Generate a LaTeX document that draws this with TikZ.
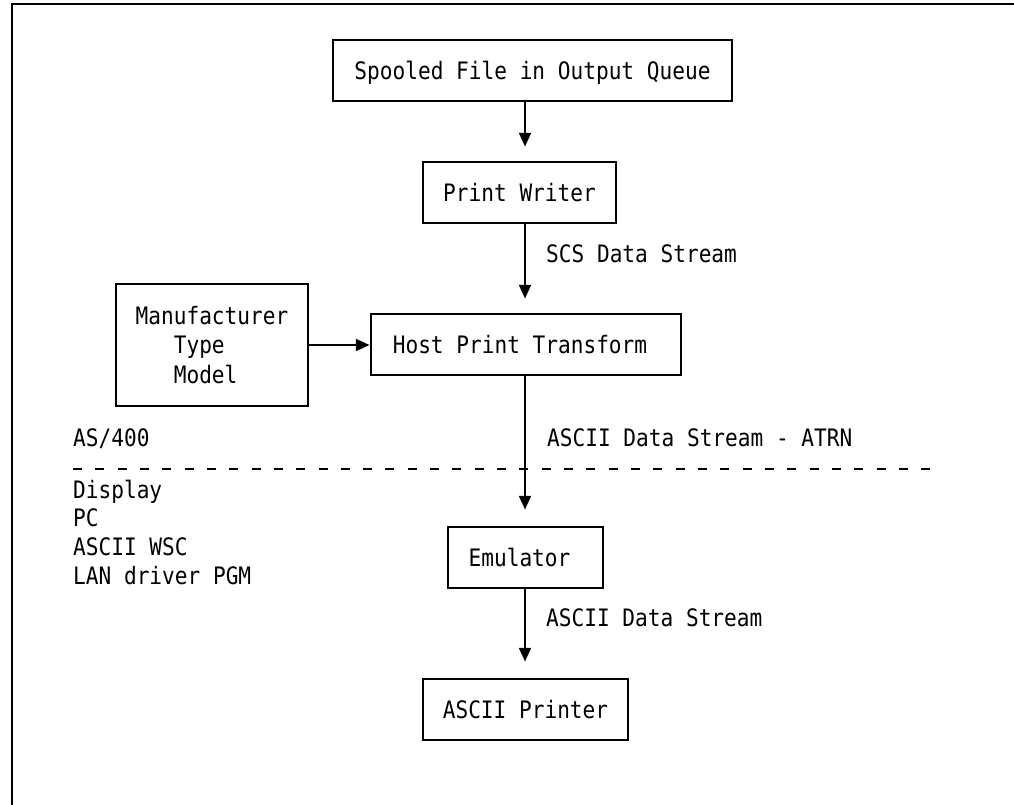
\documentclass[tikz,border=0pt]{standalone}
\usepackage{fontspec}
\newfontfamily\diagfont{DejaVu Sans Mono}[FakeStretch=0.88]
\usetikzlibrary{arrows.meta}

\tikzset{
  every node/.style={font=\diagfont\fontsize{24pt}{29.4pt}\selectfont, inner sep=0pt},
  box/.style={draw, line width=1.1pt, text height=17.5pt, text depth=0pt},
  flow/.style={line width=1.6pt, -{Triangle[width=12pt,length=13.5pt]}},
  lbl/.style={anchor=base west},
  nudge/.style={execute at end node={\hspace*{12pt}}}
}

\begin{document}
\begin{tikzpicture}[x=1pt,y=-1pt]
\useasboundingbox (0,0) rectangle (1014,805);

% page frame (top and left edges only)
\draw[line width=2pt] (12,805) -- (12,4) -- (1014,4);

% main flow column
\coordinate (spine) at (525,0);

\node[box, minimum width=399pt, minimum height=61pt] (spool) at (532.5,70.5) {Spooled File in Output Queue};
\node[box, minimum width=193pt, minimum height=61pt] (writer) at (519.5,192.5) {Print Writer};
\node[box, nudge, minimum width=310pt, minimum height=61pt] (hpt) at (526,344.5) {Host Print Transform};
\node[draw, line width=1.1pt, align=left, minimum width=192pt, minimum height=122pt] (mfr) at (212,345)
  {Manufacturer\\\phantom{Man}Type\\\phantom{Man}Model};
\node[box, nudge, minimum width=155pt, minimum height=61pt] (emu) at (525.5,557.5) {Emulator};
\node[box, minimum width=205pt, minimum height=61pt] (prn) at (525.5,709.5) {ASCII Printer};

% connectors
\draw[flow] (spool.south -| spine) -- ([yshift=15pt]writer.north -| spine);
\draw[flow] (writer.south -| spine) -- ([yshift=15pt]hpt.north -| spine);
\draw[flow, shorten >=1pt] (mfr.east) -- (hpt.west |- mfr.east);
\draw[flow] (hpt.south -| spine) -- ([yshift=17pt]emu.north -| spine);
\draw[flow] (emu.south -| spine) -- ([yshift=17pt]prn.north -| spine);

% connector labels
\node[lbl] (scs) at (546,262) {SCS Data Stream};
\node[lbl] (atrn) at (547,446.5) {ASCII Data Stream - ATRN};
\node[lbl] (ads) at (546,626.5) {ASCII Data Stream};

% system boundary
\node[lbl] (as400) at (73,446.5) {AS/400};
\coordinate (sepL) at (73,469);
\coordinate (sepR) at (930,469);
\draw[line width=1.8pt, dash pattern=on 9pt off 13.32pt] (sepL) -- (sepR);

% attachment types below the boundary
\node[lbl] (disp) at (73,498) {Display};
\node[lbl] (pc) at (73,526.7) {PC};
\node[lbl] (wsc) at (73,555.4) {ASCII WSC};
\node[lbl] (lan) at (73,584) {LAN driver PGM};
\end{tikzpicture}
\end{document}
